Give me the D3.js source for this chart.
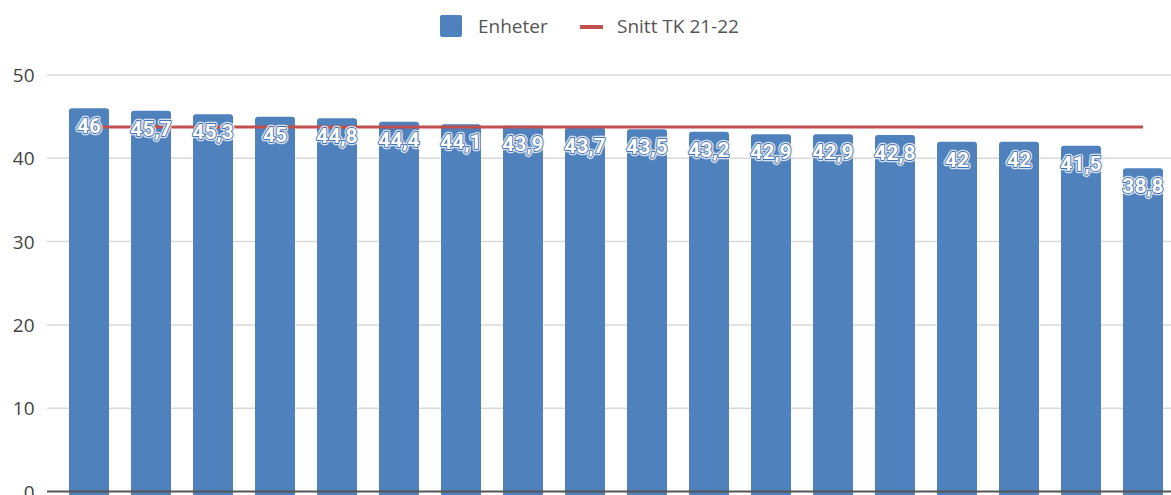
<!DOCTYPE html>
<html><head><meta charset="utf-8">
<script src="https://cdn.jsdelivr.net/npm/d3@7"></script>
<style>
html,body{margin:0;padding:0;background:#fff;overflow:hidden;}
svg{display:block;}
</style></head>
<body>
<script>
const categories = ["E1","E2","E3","E4","E5","E6","E7","E8","E9","E10","E11","E12","E13","E14","E15","E16","E17","E18"];
const values = [46,45.7,45.3,45,44.8,44.4,44.1,43.9,43.7,43.5,43.2,42.9,42.9,42.8,42,42,41.5,38.8];
const average = 43.75;
const yTicks = [0,10,20,30,40,50];
const seriesNames = ["Enheter","Snitt TK 21-22"];

const W = 1171, H = 495;
const svg = d3.select("body").append("svg").attr("width", W).attr("height", H);

const x = d3.scaleBand().domain(categories).range([47, 1185]).padding(0.355);
const y = d3.scaleLinear().domain([0, 50]).range([491.5, 75]);

// gridlines
svg.append("g").selectAll("line").data(yTicks.filter(d=>d>0)).join("line")
  .attr("x1", 47).attr("x2", W)
  .attr("y1", d=>y(d)).attr("y2", d=>y(d))
  .attr("stroke", "#d9d9d9").attr("stroke-width", 1.5);

// y axis labels
const yAxis = d3.axisLeft(y).tickValues(yTicks).tickSize(0).tickPadding(0);
const ga = svg.append("g").attr("transform", "translate(34.5,0)").call(yAxis);
ga.select(".domain").remove();
ga.selectAll("text").attr("font-family", "'Open Sans', sans-serif").attr("font-size", 19)
  .attr("fill", "#444").attr("dy", "0.35em");

// bars
svg.append("g").selectAll("rect").data(values).join("rect")
  .attr("x", (d,i)=>x(categories[i]))
  .attr("y", d=>y(d))
  .attr("width", x.bandwidth())
  .attr("height", d=>y(0)-y(d)+6)
  .attr("rx", 3)
  .attr("fill", "#4f81bd");

// baseline
svg.append("line").attr("x1", 47).attr("x2", W).attr("y1", y(0)).attr("y2", y(0))
  .attr("stroke", "#555").attr("stroke-width", 2);

// average line
const c0 = x(categories[0]) + x.bandwidth()/2;
const c1 = x(categories[categories.length-1]) + x.bandwidth()/2;
svg.append("line").attr("x1", c0).attr("x2", c1).attr("y1", y(average)).attr("y2", y(average))
  .attr("stroke", "#c0504d").attr("stroke-width", 3);

// data labels
const fmt = d => String(d).replace(".", ",");
const lg = svg.append("g");
const lab = lg.selectAll("g").data(values).join("g")
  .attr("transform", (d,i)=>`translate(${x(categories[i]) + x.bandwidth()/2},${y(d)+17.5})`);
lab.append("text").text(fmt)
  .attr("text-anchor","middle").attr("dy","0.36em")
  .attr("font-family","Roboto, sans-serif").attr("font-size",21).attr("font-weight",700)
  .attr("fill","#fff").attr("stroke","#eef2f9").attr("stroke-width",4.5).attr("stroke-linejoin","round")
  .attr("stroke-opacity",0.85);
lab.append("text").text(fmt)
  .attr("text-anchor","middle").attr("dy","0.36em")
  .attr("font-family","Roboto, sans-serif").attr("font-size",21).attr("font-weight",700)
  .attr("fill","#fff").attr("stroke","#4672ad").attr("stroke-width",1.8).attr("stroke-linejoin","round")
  .style("paint-order","stroke");

// legend
const leg = svg.append("g");
leg.append("rect").attr("x", 440).attr("y", 15).attr("width", 22).attr("height", 22).attr("rx", 2)
  .attr("fill", "#4f81bd");
leg.append("text").attr("x", 478).attr("y", 33).text(seriesNames[0])
  .attr("font-family","'Open Sans', sans-serif").attr("font-size",19).attr("fill","#555");
leg.append("line").attr("x1", 580).attr("x2", 603).attr("y1", 27).attr("y2", 27)
  .attr("stroke", "#c0504d").attr("stroke-width", 4);
leg.append("text").attr("x", 617).attr("y", 33).text(seriesNames[1])
  .attr("font-family","'Open Sans', sans-serif").attr("font-size",19).attr("fill","#555");
</script>
</body></html>
